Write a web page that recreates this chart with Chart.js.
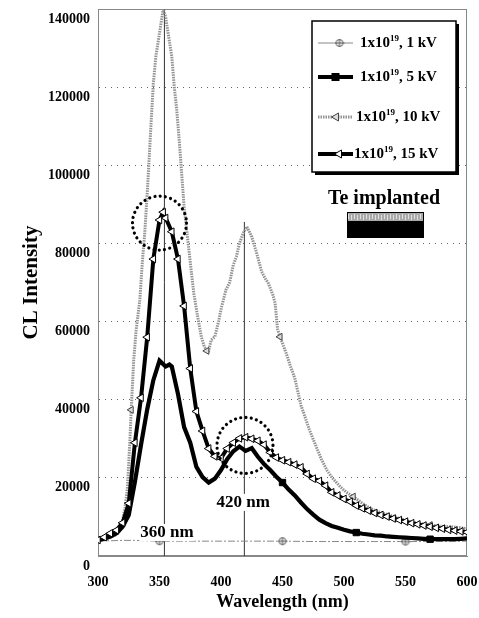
<!DOCTYPE html>
<html><head><meta charset="utf-8">
<script src="https://cdn.jsdelivr.net/npm/chart.js@4/dist/chart.umd.min.js"></script>
<style>html,body{margin:0;padding:0;background:#fff;}#wrap{width:479px;height:618px;position:relative;}</style>
</head><body><div id="wrap"><canvas id="c" width="479" height="618"></canvas></div>
<script>
// ---------- data ----------
const wl15 = [300,305,310,315,320,325,330,335,340,345,350,353,355,360,365,370,375,380,385,390,395,400,405,410,415,420,425,430,435,440,445,450,455,460,465,470,475,480,485,490,495,500,505,510,515,520,525,530,535,540,545,550,555,560,565,570,575,580,585,590,595,600];
const cl15 = [4100,4800,5800,6600,8500,13500,29000,40500,56000,76000,86000,88000,86500,83000,76000,64000,48000,37000,32000,27500,25500,25000,27500,29000,30100,30400,30000,29500,28500,26500,25200,24500,24000,23400,22700,21000,19800,19200,18000,16300,15500,14600,13900,12900,12200,11600,11000,10500,10100,9600,9200,8800,8400,8100,7800,7500,7200,7000,6700,6500,6300,6100];

const wl5 = [300,305,310,315,320,325,330,335,340,345,350,355,358,360,365,370,375,380,385,390,395,400,405,410,415,420,425,430,435,440,445,450,455,460,465,470,475,480,485,490,495,500,505,510,515,520,525,530,535,540,545,550,555,560,565,570,575,580,585,590,595,600];
const cl5 = [4000,4400,5000,5800,7500,10500,19000,28500,37500,45000,50000,48500,49000,48500,41500,33000,29000,22800,20200,18800,19800,22000,24800,26800,28000,26900,27600,25400,23500,22000,20300,18800,17000,15500,13700,12000,10600,9300,8400,7700,7200,6700,6300,6000,5700,5500,5300,5200,5000,4900,4800,4700,4600,4500,4400,4300,4300,4300,4300,4300,4400,4500];

const wl10 = [300,305,310,315,318,320,322,324,326,327,329,331,334,336,338,340.5,343,345,347,350,353,355,357,360,362,364,366,368,370,373,376,378,381,384,386.5,388.5,390,392,395,398,400.5,404,407,410,412.5,415,418,421,423,425,429,433,436,438.5,442,444,446,448,453,456,460,465,472,478,482,486,491,497,502,507.5,514,521,529,537,545,554,562,570,578,586,593,600];
const cl10 = [4000,4300,4800,5500,6500,9000,12500,17700,30000,37400,50000,57800,65500,75000,82600,95400,110000,121000,127800,133800,140000,138000,133800,127800,120100,114200,106500,98000,89400,80900,72400,67000,61300,56100,53500,52500,52500,55300,56100,60000,63800,68100,70000,74500,76600,80000,82600,84300,83000,81700,77500,72800,71000,69800,67000,64700,58000,56100,51900,49000,45500,38600,32200,27500,24500,22000,19800,17700,16300,15200,13700,12200,11200,10500,9600,8800,8300,7900,7600,7500,7300,7000];

const wl1 = [300,310,320,330,340,350,375,400,425,450,475,500,525,550,575,600];
const cl1 = [3900,3900,4000,4000,3900,3800,3800,3800,3800,3800,3700,3700,3700,3700,3700,3800];

// marker positions (wavelengths that carry a symbol)
const marks1 = [350,450,550];
const marks5 = [450,510,570];
const marks10 = [327,388.5,448,507.5,570];

// annotation values
const peakLineWl = [354,419];
const peakLineTop = [140000,85500];
const peakLabels = ['360 nm','420 nm'];
const peakLabelWl = [356,418];
const peakLabelVal = [5900,13600];
const circleWl = [350,419.5];
const circleVal = [85200,28300];

const legendBase = '1x10', legendExp = '19';
const legendKv = [', 1 kV', ', 5 kV', ', 10 kV', ', 15 kV'];
const xTitle = 'Wavelength (nm)', yTitle = 'CL Intensity', noteText = 'Te implanted';

// ---------- helpers ----------
const SERIF = "'Liberation Serif','Times New Roman',serif";
const pts = (xs, ys) => xs.map((x, i) => ({x, y: ys[i]}));
function circlePlus(r){
  const c=document.createElement('canvas'); c.width=c.height=2*r+3;
  const g=c.getContext('2d'); const m=r+1.5;
  g.fillStyle='#fff'; g.strokeStyle='#555'; g.lineWidth=1;
  g.beginPath(); g.arc(m,m,r,0,2*Math.PI); g.fill(); g.stroke();
  g.beginPath(); g.moveTo(m-r-1,m); g.lineTo(m+r+1,m); g.moveTo(m,m-r); g.lineTo(m,m+r); g.stroke();
  return c;
}
const cp = circlePlus(3.5);
const markR = (list, r) => (ctx) => (ctx.raw && list.includes(ctx.raw.x)) ? r : 0;

const ds = [
  {label:'15kV', data:pts(wl15,cl15), borderColor:'#000', borderWidth:4, pointStyle:'triangle', pointRotation:-90,
   pointRadius:4.4, pointBackgroundColor:'#fff', pointBorderColor:'#000', pointBorderWidth:1},
  {label:'5kV', data:pts(wl5,cl5), borderColor:'#000', borderWidth:4.2, pointStyle:'rect',
   pointRadius:markR(marks5,4.5), pointBackgroundColor:'#000', pointBorderColor:'#000', pointBorderWidth:1},
  {label:'1kV', data:pts(wl1,cl1), borderColor:'#888', borderWidth:1, borderDash:[7,2,2,2], pointStyle:cp,
   pointRadius:markR(marks1,3.5)},
  {label:'10kV', data:pts(wl10,cl10), borderColor:'rgba(140,140,140,0.95)', borderWidth:3, borderDash:[1.5,1],
   pointStyle:'triangle', pointRotation:-90, pointRadius:markR(marks10,4), pointBackgroundColor:'#ddd', pointBorderColor:'#444', pointBorderWidth:1},
];
peakLineWl.forEach((w,i)=>{
  ds.push({label:'line'+i, data:[{x:w,y:0},{x:w,y:peakLineTop[i]}], borderColor:'#333', borderWidth:1, pointRadius:0, order:5});
});

const frame = {
  id:'frame',
  beforeDatasetsDraw(chart){
    const {ctx, chartArea:a} = chart;
    ctx.save(); ctx.strokeStyle='#888'; ctx.lineWidth=1;
    ctx.strokeRect(a.left+0.5, a.top+0.5, a.right-a.left-1, a.bottom-a.top-1);
    ctx.restore();
  }
};

function drawSupText(ctx, x, y, base, exp, rest, size){
  ctx.textBaseline='middle'; ctx.textAlign='left';
  ctx.font = `bold ${size}px ${SERIF}`;
  ctx.fillText(base, x, y); x += ctx.measureText(base).width;
  ctx.font = `bold ${Math.round(size*0.62)}px ${SERIF}`;
  ctx.fillText(exp, x, y - size*0.3); x += ctx.measureText(exp).width;
  ctx.font = `bold ${size}px ${SERIF}`;
  ctx.fillText(rest, x, y);
}

const notes = {
  id:'notes',
  afterDatasetsDraw(chart){
    const {ctx, chartArea:a, scales:{x, y}} = chart;
    ctx.save();
    // dotted circles
    ctx.strokeStyle='#000'; ctx.lineWidth=3.2; ctx.lineCap='round'; ctx.setLineDash([0.01,5.3]);
    const radii=[27,28];
    circleWl.forEach((w,i)=>{
      ctx.beginPath(); ctx.arc(x.getPixelForValue(w), y.getPixelForValue(circleVal[i]), radii[i], 0, 2*Math.PI); ctx.stroke();
    });
    ctx.setLineDash([]); ctx.lineCap='butt';
    // peak labels
    ctx.font = `bold 17px ${SERIF}`; ctx.textAlign='center'; ctx.textBaseline='middle';
    peakLabels.forEach((t,i)=>{
      const px = x.getPixelForValue(peakLabelWl[i]), py = y.getPixelForValue(peakLabelVal[i]);
      const w = ctx.measureText(t).width;
      ctx.fillStyle='#fff'; ctx.fillRect(px-w/2-1, py-9, w+2, 17);
      ctx.fillStyle='#000'; ctx.fillText(t, px, py);
    });
    // Te implanted note
    ctx.font = `bold 20px ${SERIF}`; ctx.fillStyle='#000'; ctx.textAlign='center'; ctx.textBaseline='alphabetic';
    ctx.fillText(noteText, 384, 204);
    ctx.fillStyle='#000'; ctx.fillRect(347, 212, 77, 26);
    ctx.fillStyle='#a9a9a9'; ctx.fillRect(348, 213, 75, 8);
    ctx.fillStyle='#e0e0e0';
    for(let k=0;k<75;k+=3){ ctx.fillRect(348+k, 214+(k%2), 1, 5); }
    // legend
    const L=312, T=21, W=144, H=151;
    ctx.fillStyle='#000'; ctx.fillRect(L+3, T+3, W, H);
    ctx.fillStyle='#fff'; ctx.fillRect(L, T, W, H);
    ctx.strokeStyle='#000'; ctx.lineWidth=1.5; ctx.strokeRect(L, T, W, H);
    const rows=[43,77,117,154], tx=[360,360,356,354];
    rows.forEach((ry,i)=>{
      const x0=L+6, x1=L+41, xm=(x0+x1)/2;
      ctx.save();
      if(i===0){ ctx.strokeStyle='#888'; ctx.lineWidth=1; }
      if(i===1){ ctx.strokeStyle='#000'; ctx.lineWidth=4; }
      if(i===2){ ctx.strokeStyle='rgba(140,140,140,0.95)'; ctx.lineWidth=3; ctx.setLineDash([1.5,1]); }
      if(i===3){ ctx.strokeStyle='#000'; ctx.lineWidth=4; }
      ctx.beginPath(); ctx.moveTo(x0, ry); ctx.lineTo(x1, ry); ctx.stroke();
      ctx.setLineDash([]);
      if(i===0){ ctx.drawImage(cp, xm-cp.width/2+4, ry-cp.height/2); }
      if(i===1){ ctx.fillStyle='#000'; ctx.fillRect(xm-4, ry-4, 8, 8); }
      if(i===2){ ctx.fillStyle='#ddd'; ctx.strokeStyle='#444'; ctx.lineWidth=1; ctx.beginPath(); ctx.moveTo(xm-4,ry); ctx.lineTo(xm+3,ry-4); ctx.lineTo(xm+3,ry+4); ctx.closePath(); ctx.fill(); ctx.stroke(); }
      if(i===3){ ctx.fillStyle='#fff'; ctx.strokeStyle='#000'; ctx.lineWidth=1; ctx.beginPath(); ctx.moveTo(xm-1,ry); ctx.lineTo(xm+6,ry-4); ctx.lineTo(xm+6,ry+4); ctx.closePath(); ctx.fill(); ctx.stroke(); }
      ctx.restore();
      ctx.fillStyle='#000';
      drawSupText(ctx, tx[i], ry, legendBase, legendExp, legendKv[i], 15);
    });
    ctx.restore();
  }
};

new Chart(document.getElementById('c'), {
  type:'line',
  data:{datasets:ds},
  options:{
    responsive:false, animation:false, devicePixelRatio:1,
    layout:{padding:{left:0, right:12, top:9, bottom:0}},
    elements:{line:{tension:0, fill:false}},
    plugins:{legend:{display:false}, tooltip:{enabled:false}},
    scales:{
      x:{type:'linear', min:300, max:600,
        ticks:{stepSize:50, color:'#000', font:{family:SERIF, size:14, weight:'bold'}, padding:18, maxRotation:0},
        grid:{display:false, drawTicks:false},
        border:{display:true, color:'#888'},
        title:{display:true, text:xTitle, color:'#000', font:{family:SERIF, size:18, weight:'bold'}, padding:{top:0,bottom:5}},
        afterFit(s){ s.height = 62; s.paddingLeft = 0; s.paddingRight = 0; }
      },
      y:{type:'linear', min:0, max:140000,
        ticks:{stepSize:20000, color:'#000', font:{family:SERIF, size:14, weight:'bold'}, padding:8, labelOffset:10,
          callback:(v)=>String(v)},
        grid:{color:'#666', lineWidth:1, drawTicks:false},
        border:{display:true, color:'#888', dash:[1,5]},
        title:{display:true, text:yTitle, color:'#000', font:{family:SERIF, size:21, weight:'bold'}, padding:{top:19,bottom:0}},
        afterFit(s){ s.width = 98; s.paddingTop = 0; s.paddingBottom = 0; }
      }
    }
  },
  plugins:[frame, notes]
});
</script>
</body></html>
